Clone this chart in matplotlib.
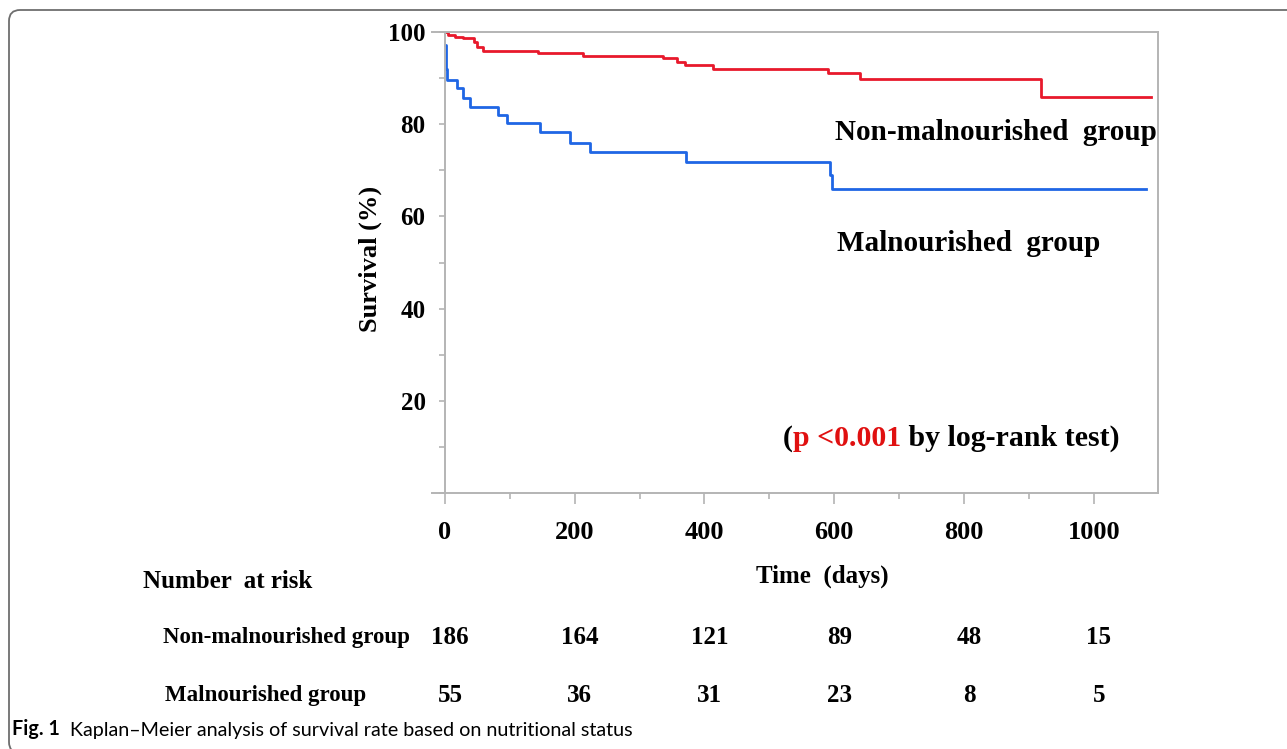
import matplotlib
matplotlib.use('Agg')
import matplotlib.pyplot as plt
from matplotlib.patches import FancyBboxPatch
from matplotlib.ticker import MultipleLocator

# Kaplan-Meier step data (days, survival %)
non_mal_t = [0, 5, 15, 28, 44, 50, 59, 144, 213, 336, 357, 370, 413, 591, 639, 919, 1088]
non_mal_s = [100, 99.3, 99.0, 98.6, 97.9, 96.8, 95.9, 95.4, 94.9, 94.3, 93.6, 92.8, 91.9, 91.0, 89.7, 86.0, 86.0]

mal_t = [0, 1, 2, 3, 18, 28, 39, 82, 95, 146, 192, 223, 372, 593, 596, 1081]
mal_s = [97.2, 94.5, 92.0, 89.6, 87.8, 85.6, 83.8, 82.0, 80.2, 78.2, 76.0, 74.0, 71.9, 69.0, 65.9, 65.9]

# number at risk table
risk_times = [0, 200, 400, 600, 800, 1000]
non_mal_risk = [186, 164, 121, 89, 48, 15]
mal_risk = [55, 36, 31, 23, 8, 5]

y_ticks = [0, 20, 40, 60, 80, 100]
y_ticklabels = ['', '20', '40', '60', '80', '100']

W, H = 1287, 749
SERIF = ['Liberation Serif', 'DejaVu Serif']
RED = '#e8192c'
BLUE = '#1f66e5'
GRAY = '#b4b4b4'


def fx(px):
    return px / W


def fy(py):
    return 1 - py / H


fig = plt.figure(figsize=(W / 100, H / 100), dpi=100)

# rounded frame round the figure (runs off at right and bottom)
frame = FancyBboxPatch((fx(9), fy(753)), fx(1320) - fx(9), fy(10) - fy(753),
                       boxstyle='round,pad=0,rounding_size=%f' % fx(11),
                       mutation_aspect=W / H, transform=fig.transFigure,
                       facecolor='none', edgecolor='#6e6e6e', linewidth=1.3)
fig.patches.append(frame)

ax = fig.add_axes([fx(432), fy(493), fx(1158) - fx(432), fy(32) - fy(493)])

ax.step(non_mal_t, non_mal_s, where='post', color=RED, lw=2.0)
ax.step(mal_t, mal_s, where='post', color=BLUE, lw=2.0)

ax.set_xlim(-20, 1099)
ax.set_ylim(0, 100)

for s in ax.spines.values():
    s.set_color(GRAY)
    s.set_linewidth(1.4)
ax.spines['left'].set_position(('data', 0))

ax.xaxis.set_major_locator(MultipleLocator(200))
ax.xaxis.set_minor_locator(MultipleLocator(100))
ax.set_yticks(y_ticks)
ax.set_yticklabels(y_ticklabels)
ax.yaxis.set_minor_locator(MultipleLocator(10))

ax.tick_params(axis='x', which='major', length=8, width=1.2, color=GRAY, pad=12)
ax.tick_params(axis='x', which='minor', length=4, width=1.2, color=GRAY)
ax.tick_params(axis='y', which='both', length=4, width=1.2, color=GRAY, pad=10)
for lab in ax.get_xticklabels():
    lab.set_fontfamily(SERIF)
    lab.set_fontweight('bold')
    lab.set_fontsize(19)
for lab in ax.get_yticklabels():
    lab.set_fontfamily(SERIF)
    lab.set_fontweight('bold')
    lab.set_fontsize(18)

ax.set_ylabel('Survival (%)', family=SERIF, fontweight='bold', fontsize=19)
ax.yaxis.set_label_coords(-0.069, 0.507)
ax.set_xlabel('Time  (days)', family=SERIF, fontweight='bold', fontsize=18)
ax.xaxis.set_label_coords(0.537, -0.155)

# curve labels
ax.text(601, 78.1, 'Non-malnourished  group', family=SERIF, fontweight='bold',
        fontsize=21, va='center', ha='left')
ax.text(605, 54.2, 'Malnourished  group', family=SERIF, fontweight='bold',
        fontsize=21, va='center', ha='left')

# p-value note, red part in the middle
t1 = ax.text(521, 11.9, '(', family=SERIF, fontweight='bold', fontsize=21.5,
             va='center', ha='left')
t2 = ax.annotate('p <0.001', xy=(1, 0), xycoords=t1, va='bottom', ha='left',
                 family=SERIF, fontweight='bold', fontsize=21.5, color='#e01010')
ax.annotate(' by log-rank test)', xy=(1, 0), xycoords=t2, va='bottom', ha='left',
            family=SERIF, fontweight='bold', fontsize=21.5)

# number at risk
fig.text(fx(143), fy(581), 'Number  at risk', family=SERIF, fontweight='bold',
         fontsize=18, va='center', ha='left')
fig.text(fx(163), fy(637), 'Non-malnourished group', family=SERIF, fontweight='bold',
         fontsize=16.5, va='center', ha='left')
fig.text(fx(165), fy(695), 'Malnourished group', family=SERIF, fontweight='bold',
         fontsize=16.5, va='center', ha='left')

trans = ax.get_xaxis_transform()
for t, n1, n2 in zip(risk_times, non_mal_risk, mal_risk):
    ax.annotate(str(n1), xy=(t, 0), xycoords=trans, xytext=(5, fy(637) * H - fy(493) * H),
                textcoords='offset pixels', family=SERIF, fontweight='bold',
                fontsize=18, ha='center', va='center', annotation_clip=False)
    ax.annotate(str(n2), xy=(t, 0), xycoords=trans, xytext=(5, fy(695) * H - fy(493) * H),
                textcoords='offset pixels', family=SERIF, fontweight='bold',
                fontsize=18, ha='center', va='center', annotation_clip=False)

# caption
cap1 = fig.text(fx(12), fy(729), 'Fig. 1', family=['Lato', 'DejaVu Sans'],
                fontweight='bold', fontsize=14.2, va='center', ha='left')
plt.annotate('  Kaplan\u2013Meier analysis of survival rate based on nutritional status',
             xy=(1, 0), xycoords=cap1, va='bottom', ha='left',
             family=['Lato', 'DejaVu Sans'], fontsize=14.2)

fig.savefig('out.png', dpi=100)
